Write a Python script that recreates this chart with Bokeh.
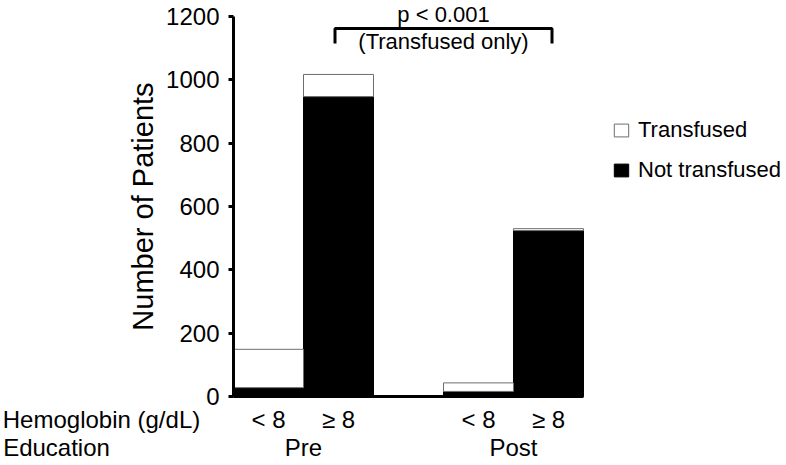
from bokeh.plotting import figure
from bokeh.models import (Range1d, FixedTicker, Legend, LegendItem, LinearAxis,
                          ColumnDataSource)
from bokeh.core.properties import value
from bokeh.embed import file_html
from bokeh.resources import INLINE

# ---- data ----
education = ["Pre", "Pre", "Post", "Post"]
hemoglobin = ["< 8", "≥ 8", "< 8", "≥ 8"]
not_transfused = [28, 947, 16, 524]
transfused = [121, 70, 27, 6]
y_ticks = [0, 200, 400, 600, 800, 1000, 1200]
series_labels = ["Transfused", "Not transfused"]
row_titles = ["Hemoglobin (g/dL)", "Education"]
p_text = ["p < 0.001", "(Transfused only)"]

# ---- layout (pixels) ----
W, H = 786, 465
FONT = "Liberation Sans"
BAR_LEFT_PX, BAR_RIGHT_PX = 233, 583      # x extent of the bar area
Y0_PX, YTOP_PX = 396, 16                  # pixel rows of 0 and of the top tick
GROUP_GAP = 1.0                           # empty slot between groups (bar widths)
TITLE_CENTER_PX = [101, 56]               # centres of the two row titles
BRACKET_PAD_PX = 3.5                      # bracket reaches a bit past bar centres

group_order = list(dict.fromkeys(education))
n_slots = len(hemoglobin) + GROUP_GAP * (len(group_order) - 1)
ux = (BAR_RIGHT_PX - BAR_LEFT_PX) / n_slots
uy = (Y0_PX - YTOP_PX) / y_ticks[-1]

def px_x(px):
    return (px - BAR_LEFT_PX) / ux

def px_y(px):
    return (Y0_PX - px) / uy

x_pos = [i + 0.5 + GROUP_GAP * group_order.index(g) for i, g in enumerate(education)]
group_centers = [sum(x for x, g in zip(x_pos, education) if g == grp) /
                 education.count(grp) for grp in group_order]
title_x = [px_x(c) for c in TITLE_CENTER_PX]

source = ColumnDataSource(dict(x=x_pos, nt=not_transfused, t=transfused))

p = figure(width=W, height=H,
           x_range=Range1d(px_x(0), px_x(W)),
           y_range=Range1d(px_y(H), px_y(0)),
           x_axis_type=None, y_axis_type=None,
           output_backend="svg", toolbar_location=None, min_border=0)
p.outline_line_color = None
p.grid.visible = False
p.background_fill_color = "white"
p.border_fill_color = "white"

rs = p.vbar_stack(["nt", "t"], x="x", width=1.0, source=source,
                  fill_color=["black", "white"],
                  line_color=["black", "#6e6e6e"], line_width=1)

# ---- y axis ----
ya = LinearAxis(fixed_location=0, bounds=(0, y_ticks[-1]),
                ticker=FixedTicker(ticks=y_ticks))
ya.axis_line_width = 3
ya.axis_line_color = "black"
ya.major_tick_line_width = 3
ya.major_tick_out = 5
ya.major_tick_in = 0
ya.minor_tick_out = 0
ya.minor_tick_in = 0
ya.major_label_standoff = 9
ya.major_label_text_font = FONT
ya.major_label_text_font_size = "24px"
ya.major_label_text_color = "black"
ya.axis_label = "Number of Patients"
ya.axis_label_text_font = FONT
ya.axis_label_text_font_size = "29px"
ya.axis_label_text_font_style = "normal"
ya.axis_label_text_color = "black"
ya.axis_label_standoff = 4
p.add_layout(ya, "left")


def label_axis(ticks, labels, standoff, line=False):
    ax = LinearAxis(fixed_location=0, ticker=FixedTicker(ticks=ticks),
                    major_label_overrides={t: s for t, s in zip(ticks, labels)})
    if line:
        ax.bounds = (0, n_slots)
        ax.axis_line_width = 3
        ax.axis_line_color = "black"
    else:
        ax.axis_line_color = None
    ax.major_tick_line_color = None
    ax.minor_tick_line_color = None
    ax.major_tick_out = 0
    ax.major_tick_in = 0
    ax.minor_tick_out = 0
    ax.minor_tick_in = 0
    ax.major_label_standoff = standoff
    ax.major_label_text_font = FONT
    ax.major_label_text_font_size = "24px"
    ax.major_label_text_color = "black"
    p.add_layout(ax, "below")
    return ax


# hemoglobin row (with the x axis line) and education row
label_axis(x_pos, hemoglobin, 9, line=True)
label_axis([title_x[0]], [row_titles[0]], 9)
label_axis([title_x[1]] + group_centers, [row_titles[1]] + group_order, 37)

# ---- significance bracket between the two ">= 8" bars ----
pad = BRACKET_PAD_PX / ux
bx0, bx1 = x_pos[1] - pad, x_pos[3] + pad
p.line(x=[bx0, bx0, bx1, bx1],
       y=[px_y(43), px_y(28), px_y(28), px_y(43)],
       line_color="black", line_width=3)
p.text(x=[(bx0 + bx1) / 2] * 2, y=[px_y(14), px_y(41)], text=p_text,
       text_font=value(FONT), text_font_size="22px", text_color="black",
       text_align="center", text_baseline="alphabetic")

# ---- legend ----
legend = Legend(items=[LegendItem(label=series_labels[0], renderers=[rs[1]]),
                       LegendItem(label=series_labels[1], renderers=[rs[0]])],
                location=(612, H - 183))
legend.label_text_font = FONT
legend.label_text_font_size = "22px"
legend.label_text_color = "black"
legend.glyph_width = 18
legend.glyph_height = 16
legend.label_standoff = 8
legend.spacing = 14
legend.padding = 0
legend.margin = 0
legend.border_line_color = None
legend.background_fill_alpha = 0
p.add_layout(legend)

open("out.html", "w").write(file_html(p, INLINE))
